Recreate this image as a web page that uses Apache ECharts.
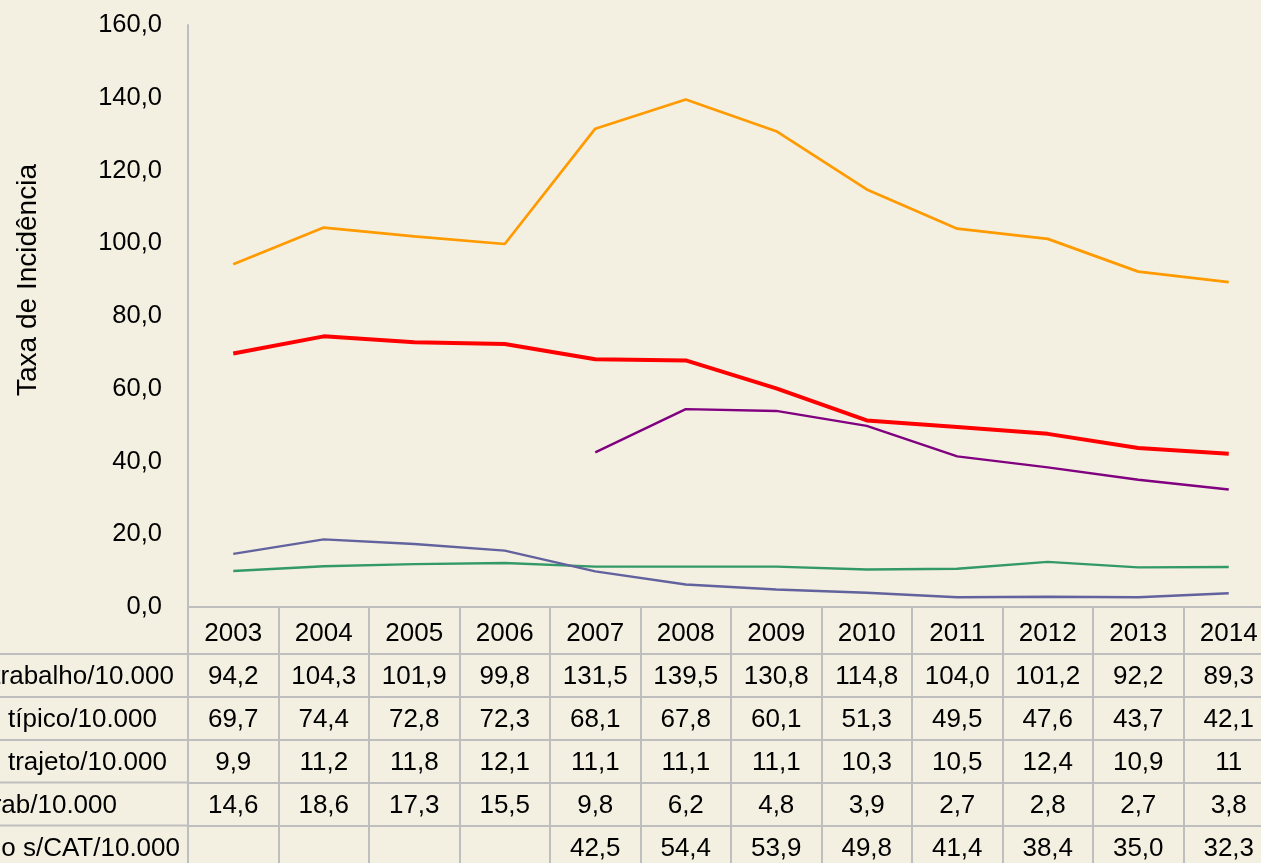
<!DOCTYPE html>
<html>
<head>
<meta charset="utf-8">
<script src="https://cdn.jsdelivr.net/npm/echarts@6/dist/echarts.min.js"></script>
<style>
html,body{margin:0;padding:0;background:#F4F0E1;}
#c{width:1261px;height:863px;}
</style>
</head>
<body>
<div id="c"></div>
<script>
// ---- data (as shown in the chart's data table) ----
var years = ['2003','2004','2005','2006','2007','2008','2009','2010','2011','2012','2013','2014'];
var rowTrabalho = ['94,2','104,3','101,9','99,8','131,5','139,5','130,8','114,8','104,0','101,2','92,2','89,3'];
var rowTipico   = ['69,7','74,4','72,8','72,3','68,1','67,8','60,1','51,3','49,5','47,6','43,7','42,1'];
var rowTrajeto  = ['9,9','11,2','11,8','12,1','11,1','11,1','11,1','10,3','10,5','12,4','10,9','11'];
var rowDoenca   = ['14,6','18,6','17,3','15,5','9,8','6,2','4,8','3,9','2,7','2,8','2,7','3,8'];
var rowSemCAT   = ['','','','','42,5','54,4','53,9','49,8','41,4','38,4','35,0','32,3'];
var rowNames = ['Acidentes do trabalho/10.000','Acidente típico/10.000','Acidente de trajeto/10.000','Doença do trab/10.000','Acidente do trabalho s/CAT/10.000'];
var yTicks = [0,20,40,60,80,100,120,140,160];

function toNum(a){ return a.map(function(s){ return s === '' ? null : parseFloat(s.replace(',', '.')); }); }

var rows = [rowTrabalho, rowTipico, rowTrajeto, rowDoenca, rowSemCAT];
var colors = ['#FF9A00', '#FF0000', '#339966', '#62629E', '#800080'];
var widths = [2.7, 4, 2.4, 2.4, 2.4];

var gridTop = 25, gridBottomY = 607;
var axisColor = '#BEBEBE';
var font = 'Liberation Sans, Arial, Helvetica, sans-serif';
var fs = 26;

var xAxes = [{
  type: 'category', data: years, boundaryGap: true, position: 'bottom', offset: 0,
  axisLine: {show: true, lineStyle: {color: axisColor, width: 2}},
  axisTick: {show: true, interval: 0, length: 47, lineStyle: {color: axisColor, width: 2}},
  axisLabel: {interval: 0, margin: 13.5, color: '#000', fontSize: fs, fontFamily: font},
  splitLine: {show: false}
}];
var rowOffsets = [47, 90, 133, 175.5, 218.5];
rows.forEach(function(r, k){
  xAxes.push({
    type: 'category', data: years, boundaryGap: true, position: 'bottom', offset: rowOffsets[k],
    axisLine: {show: true, lineStyle: {color: axisColor, width: 2}},
    axisTick: {show: true, interval: 0, length: 43, lineStyle: {color: axisColor, width: 2}},
    axisLabel: {interval: 0, margin: 10, color: '#000', fontSize: fs, fontFamily: font,
      formatter: (function(arr){ return function(v, i){ return arr[i]; }; })(r)},
    splitLine: {show: false}
  });
});

var series = rows.map(function(r, k){
  return {
    name: rowNames[k], type: 'line', xAxisIndex: 0, data: toNum(r),
    symbol: 'none', smooth: false, connectNulls: false,
    lineStyle: {color: colors[k], width: widths[k]}, z: k === 1 ? 5 : 3,
    animation: false
  };
});

// row label texts (left column, clipped by page edge) and left row separators
var labelRight = [174, 157, 167, 117, 180];
var graphics = [];
rowNames.forEach(function(n, k){
  var top = gridBottomY + rowOffsets[k];
  graphics.push({type: 'line', shape: {x1: 0, y1: top, x2: 188, y2: top}, style: {stroke: axisColor, lineWidth: 2}});
  graphics.push({type: 'text', x: labelRight[k], y: top + 23,
    style: {text: n, fontSize: fs, fontFamily: font, fill: '#000', textAlign: 'right', textVerticalAlign: 'middle'}});
});
graphics.push({type: 'text', x: 28, y: 280, rotation: Math.PI/2,
  style: {text: 'Taxa de Incidência', fontSize: 28, fontFamily: font, fill: '#000', textAlign: 'center', textVerticalAlign: 'middle'}});

var chart = echarts.init(document.getElementById('c'), null, {renderer: 'canvas'});
chart.setOption({
  backgroundColor: '#F4F0E1',
  animation: false,
  grid: {left: 188, top: gridTop, width: 1086, height: gridBottomY - gridTop, containLabel: false, outerBoundsMode: 'none'},
  xAxis: xAxes,
  yAxis: {
    type: 'value', min: yTicks[0], max: yTicks[yTicks.length-1], interval: yTicks[1]-yTicks[0],
    axisLine: {show: true, lineStyle: {color: axisColor, width: 2}},
    axisTick: {show: false}, splitLine: {show: false},
    axisLabel: {margin: 26, color: '#000', fontSize: 25.5, fontFamily: font, padding: [3, 0, 0, 0],
      formatter: function(v){ return v.toFixed(1).replace('.', ','); }}
  },
  series: series,
  graphic: graphics
});
</script>
</body>
</html>
